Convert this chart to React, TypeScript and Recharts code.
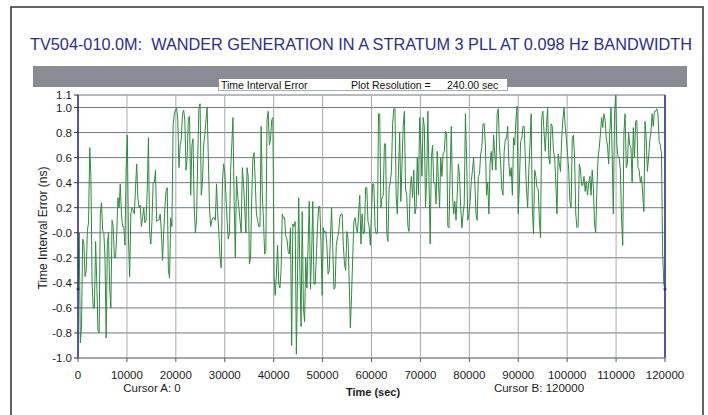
import React from 'react'
import {
  LineChart, Line, XAxis, YAxis, CartesianGrid, ReferenceLine, ReferenceDot,
} from 'recharts'

const TITLE = 'TV504-010.0M:  WANDER GENERATION IN A STRATUM 3 PLL AT 0.098 Hz BANDWIDTH'

// plot resolution 240 s: readings at 0, 480, 960 ... s
const SAMPLE_SEC = 240
const TIE_EVEN = [
  -0.45, -0.88, -0.05, -0.35, 0.02, 0.68, -0.4, -0.6, -0.4, -0.8,
  0.24, 0.0, -0.84, 0.0, -0.6, 0.05, -0.2, 0.28, 0.39, 0.05,
  -0.1, 0.78, -0.35, 0.2, 0.15, 0.55, 0.2, 0.05, 0.2, 0.1,
  0.76, -0.09, 0.4, 0.5, 0.1, 0.15, -0.22, 0.2, 0.36, -0.36,
  0.05, 0.95, 1.0, 0.52, 0.75, 0.98, 0.5, 0.92, 0.3, 0.75,
  0.0, 0.6, 1.03, 0.4, 0.78, 1.0, 0.2, 0.1, 0.12, 0.39,
  0.0, -0.28, 0.55, 0.3, -0.05, 0.5, 0.92, -0.2, 0.3, 0.1,
  0.52, 0.2, 0.52, -0.25, 0.3, 0.64, 0.15, 0.05, 0.85, 0.1,
  -0.15, 0.97, 0.75, 0.92, -0.5, -0.1, -0.44, 0.15, 0.12, -0.05,
  -0.17, -0.9, 0.05, -0.97, 0.28, -0.75, -0.6, -0.2, -0.1, -0.45,
  0.25, -0.41, 0.05, 0.21, -0.5, 0.0, -0.1, -0.3, 0.2, -0.45,
  -0.1, 0.0, 0.15, -0.1, -0.3, -0.05, -0.76, -0.2, 0.12, 0.0,
  0.3, 0.15, 0.0, 0.36, 0.05, 0.17, 0.39, -0.01, 0.95, 0.2,
  0.3, 0.71, -0.07, 0.4, 0.87, 0.99, 0.15, 0.8, 0.55, 0.97,
  0.3, 0.01, 0.45, 0.5, 0.2, 0.3, 0.7, 0.92, 0.2, 0.97,
  -0.09, 0.7, 0.4, 0.65, 0.2, 0.45, 0.65, 0.79, 0.04, 0.85,
  0.15, 0.1, 0.55, 0.2, 0.15, 0.95, 0.1, 0.25, 0.5, 0.4,
  0.1, 0.47, 0.68, 0.87, 0.3, 0.15, 0.65, 0.78, 0.5, 0.99,
  0.55, 0.3, 0.75, 0.85, 0.45, 0.3, 0.7, 1.01, 0.4, 0.75,
  0.85, 0.35, 0.5, 0.95, -0.01, 0.45, 0.35, -0.04, 0.97, 0.65,
  1.0, 0.55, 0.85, 0.6, 0.15, 0.55, 0.75, 1.0, 0.75, 0.5,
  0.2, 0.78, 0.15, 0.05, 0.5, 0.38, 0.33, 0.3, 0.45, 0.5,
  0.07, 0.35, 0.68, 0.92, 0.95, 0.75, 0.55, 1.0, 0.15, 1.1,
  0.6, 0.5, -0.1, 0.95, 0.55, 0.7, 0.4, 0.6, 0.9, 0.5,
  0.45, 0.17, 0.75, 0.6, 0.8, 0.85, 0.97, 0.95, 0.7, -0.17,
  -0.45,
]
// readings in between: 240, 720, 1200 ... s
const TIE_ODD = [
  0.0, -0.75, -0.09, -0.3, 0.08, 0.45, -0.6, -0.07, -0.78, 0.15,
  0.02, -0.2, -0.1, -0.45, 0.1, -0.2, -0.01, 0.2, 0.15, 0.05,
  0.5, -0.05, 0.15, 0.18, 0.36, 0.28, 0.22, 0.12, 0.08, 0.35,
  0.0, 0.09, 0.4, 0.09, 0.1, 0.01, 0.0, 0.33, -0.3, 0.12,
  0.85, 0.98, 0.9, 0.7, 0.95, 0.9, 0.6, 0.93, 0.7, 0.2,
  0.1, 1.0, 0.3, 0.7, 0.9, 0.6, 0.05, 0.12, 0.1, 0.15,
  -0.2,
  0.4, 0.49, 0.1, 0.0, 0.7, 0.25, 0.45, 0.2, 0.0, 0.39,
  0.0, 0.45, -0.2, 0.6, 0.4, 0.1, 0.05, 0.3, -0.17, 0.9,
  0.7, 0.9, -0.35, -0.33, -0.41, -0.3, 0.12, -0.03, -0.15, 0.04,
  0.07, 0.09,
  -0.33, -0.3, 0.17, -0.71, -0.44, 0.25, -0.17, -0.41, -0.2, 0.21,
  -0.09, 0.04, 0.01, -0.33, -0.04, -0.12, -0.44, -0.04, 0.12, 0.15,
  -0.25, 0.01, -0.39, -0.5, 0.09, 0.04, 0.15, -0.09, -0.01, 0.36,
  0.09,
  -0.1, 0.39, 0.05, 0.0, 0.95, 0.28, 0.71, 0.0, 0.36, 0.5,
  0.99, 0.3, 0.5, 0.25, 0.85, 0.35, 0.05, 0.36, 0.28, 0.15,
  0.6, 0.92, 0.45, 0.85, 0.44, 0.41, 0.6, 0.4, 0.23, 0.41,
  0.6, 0.63,
  0.81, 0.05, 0.5, 0.3, 0.25, 0.3, 0.45, 0.04, 0.23, 0.6,
  0.15, 0.41, 0.6, 0.15, 0.45, 0.63, 0.87, 0.7, 0.4, 0.55,
  0.5, 0.63, 0.95, 0.7, 0.35, 0.65, 0.75, 0.55, 0.52, 0.76,
  0.9,
  0.15, 0.73, 0.85, 0.6, 0.2, 0.7, 0.2, 0.5, 0.36, 0.1,
  0.92, 0.8, 0.84, 0.6, 0.87, 0.65, 0.4, 0.63, 0.49, 0.9,
  0.85, 0.63, 0.25, 0.75, 0.6, 0.04, 0.55, 0.38, 0.45, 0.41,
  0.4, 0.3,
  0.36, 0.0, 0.6, 0.79, 0.84, 0.9, 0.7, 0.81, 0.63, 0.95,
  0.7, 0.6, 0.1, 0.8, 0.52, 0.8, 0.68, 0.84, 0.89, 0.52,
  0.4, 0.31, 0.89, 0.49, 0.73, 0.95, 0.97, 0.99, 0.73, 0.63,
  -0.41,
]

const X_TICKS = [0, 10000, 20000, 30000, 40000, 50000, 60000, 70000, 80000, 90000, 100000, 110000, 120000]
const Y_TICKS = [1.1, 1.0, 0.8, 0.6, 0.4, 0.2, 0.0, -0.2, -0.4, -0.6, -0.8, -1.0]
const CURSOR_A = 0
const CURSOR_B = 120000
const CURSOR_LEVEL = -0.45

const TIE_NS = TIE_EVEN.flatMap((v, k) => (k < TIE_ODD.length ? [v, TIE_ODD[k]] : [v]))
const data = TIE_NS.map((v, i) => ({ t: i * SAMPLE_SEC, v }))

const FONT = '"Liberation Sans", Arial, sans-serif'
const NAVY = '#2c2c8e'
const tick = { fontSize: 11.5, fill: '#1a1a1a', fontFamily: FONT }

function fmtY(v: number) {
  return v === 0 ? '-0.0' : v.toFixed(1)
}

export default function App() {
  return (
    <div style={{ position: 'absolute', left: 0, top: 0, width: 708, height: 415, background: '#fff', overflow: 'hidden' }}>
      {/* frame, title, band and axis captions */}
      <svg width={708} height={415} style={{ position: 'absolute', left: 0, top: 0 }}>
        <rect x={11} y={7} width={692} height={420} fill="none" stroke="#333" strokeWidth={1.5} />
        <text x={361} y={50} textAnchor="middle" fontSize={16.5} fill={NAVY} fontFamily={FONT}
          textLength={662} lengthAdjust="spacingAndGlyphs" style={{ whiteSpace: 'pre' }}>{TITLE}</text>
        <rect x={33} y={66} width={654} height={21} fill="#898c95" />
        <rect x={218.5} y={78.5} width={289} height={12} fill="#fff" stroke="#555" strokeDasharray="1 1" />
        <text x={221} y={88.5} fontSize={10.5} fill="#111" fontFamily={FONT}>Time Interval Error</text>
        <text x={351} y={88.5} fontSize={10.5} fill="#111" fontFamily={FONT}>Plot Resolution =</text>
        <text x={447} y={88.5} fontSize={10.5} fill="#111" fontFamily={FONT}>240.00 sec</text>
        <text transform="translate(47,228) rotate(-90)" textAnchor="middle" fontSize={12} fill="#1a1a1a" fontFamily={FONT}>
          Time Interval Error (ns)
        </text>
        <text x={152} y={392} textAnchor="middle" fontSize={11.5} fill="#1a1a1a" fontFamily={FONT}>Cursor A: 0</text>
        <text x={373} y={396} textAnchor="middle" fontSize={11} fontWeight="bold" fill="#1a1a1a" fontFamily={FONT}>Time (sec)</text>
        <text x={539} y={392} textAnchor="middle" fontSize={11.5} fill="#1a1a1a" fontFamily={FONT}>Cursor B: 120000</text>
      </svg>

      <div style={{ position: 'absolute', left: 0, top: 0 }}>
        <LineChart width={708} height={415} data={data} margin={{ top: 95, right: 43, bottom: 0, left: 0 }}>
          <CartesianGrid vertical={false} stroke="#6f7780" />
          <CartesianGrid horizontal={false} stroke="#a4a9b0" />
          <XAxis
            type="number"
            dataKey="t"
            domain={[0, 120000]}
            ticks={X_TICKS}
            interval={0}
            height={57}
            tick={tick}
            tickSize={4}
            tickMargin={9}
            tickLine={{ stroke: '#555' }}
            axisLine={{ stroke: '#8c939b' }}
          />
          <YAxis
            type="number"
            domain={[-1, 1.1]}
            ticks={Y_TICKS}
            interval={0}
            allowDataOverflow
            width={78}
            tick={tick}
            tickFormatter={fmtY}
            tickSize={4}
            tickMargin={2}
            tickLine={{ stroke: '#333' }}
            axisLine={false}
          />
          <Line
            type="linear"
            dataKey="v"
            stroke="#2f8a3f"
            strokeWidth={1}
            dot={false}
            isAnimationActive={false}
          />
          <ReferenceLine x={CURSOR_A} stroke={NAVY} strokeWidth={1.5} />
          <ReferenceLine x={CURSOR_B} stroke={NAVY} strokeWidth={1.5} />
          <ReferenceDot x={CURSOR_A} y={CURSOR_LEVEL} r={1.5} fill={NAVY} stroke="none" />
          <ReferenceDot x={CURSOR_B} y={CURSOR_LEVEL} r={1.5} fill={NAVY} stroke="none" />
        </LineChart>
      </div>
    </div>
  )
}
